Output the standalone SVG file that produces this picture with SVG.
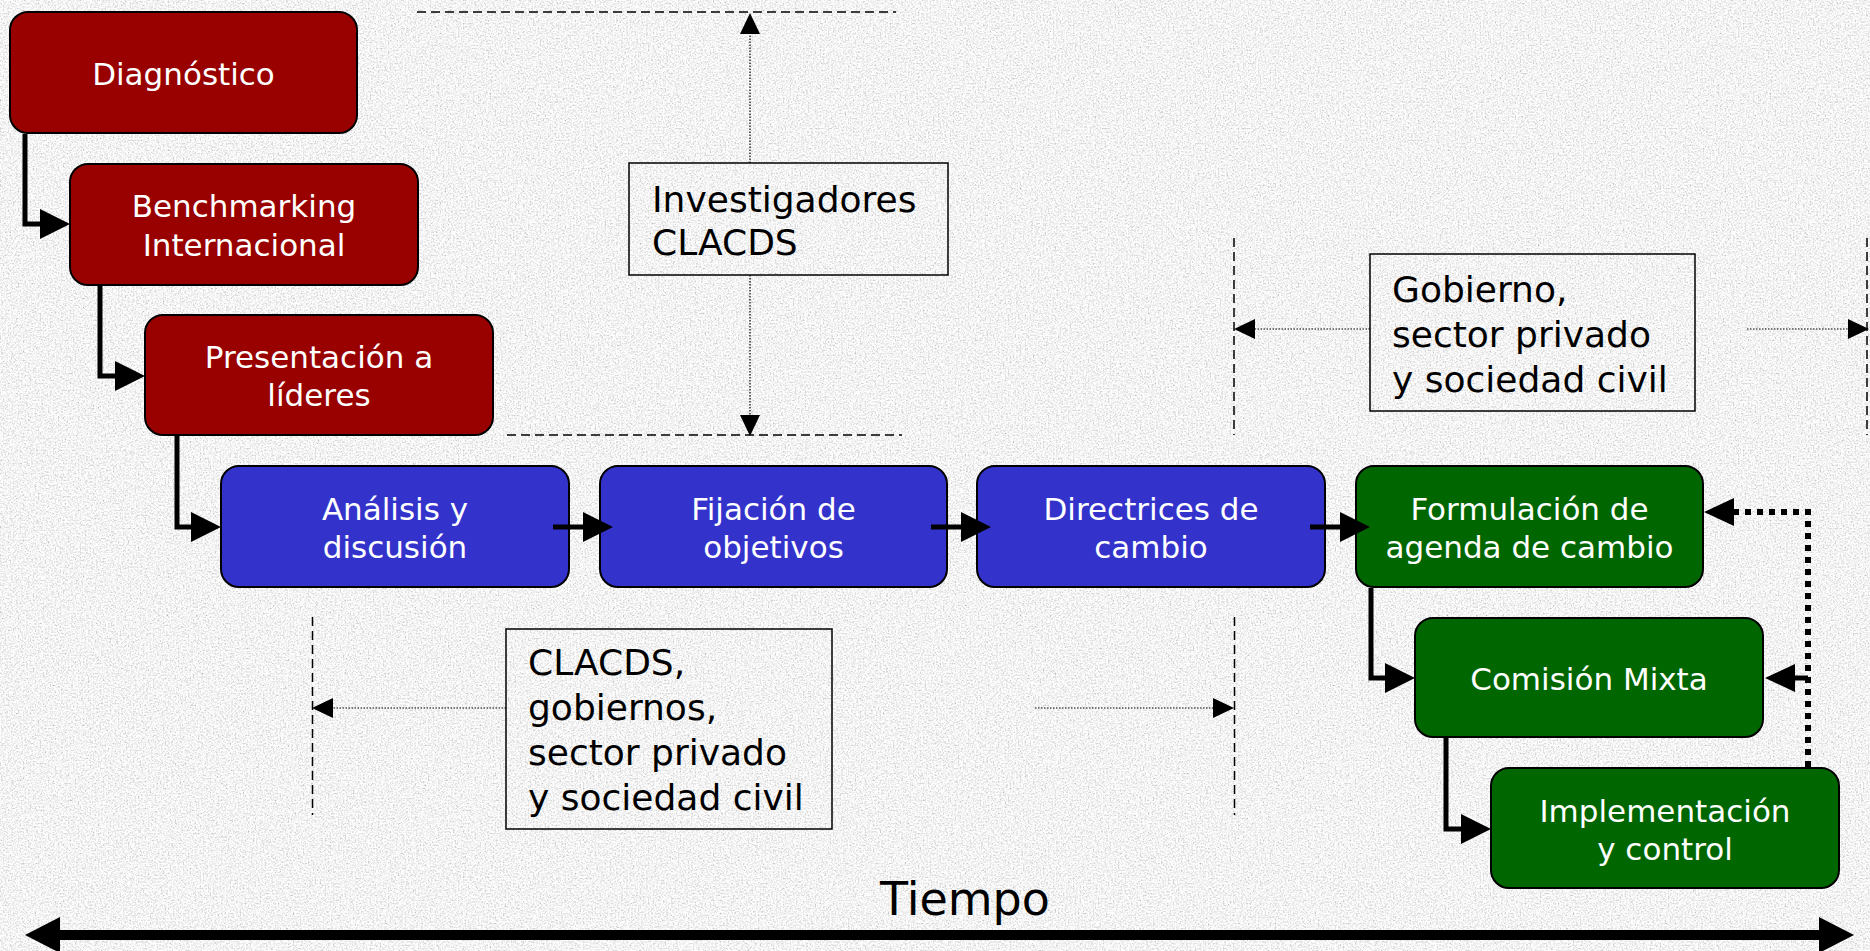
<svg xmlns="http://www.w3.org/2000/svg" width="1870" height="951" viewBox="0 0 1870 951">
  <defs>
    <filter id="granite" x="0" y="0" width="1" height="1">
      <feTurbulence type="fractalNoise" baseFrequency="0.6" numOctaves="3" seed="11" result="t"/>
      <feColorMatrix in="t" type="matrix" values="0.33 0.33 0.33 0 0  0.33 0.33 0.33 0 0  0.33 0.33 0.33 0 0  0 0 0 0 1"/>
      <feComponentTransfer>
        <feFuncR type="linear" slope="1.5" intercept="0.16"/>
        <feFuncG type="linear" slope="1.5" intercept="0.16"/>
        <feFuncB type="linear" slope="1.5" intercept="0.16"/>
      </feComponentTransfer>
    </filter>
    <marker id="arr" viewBox="0 0 30 30" refX="0" refY="15" markerWidth="30" markerHeight="30" markerUnits="userSpaceOnUse" orient="auto">
      <path d="M0,0 L30,15 L0,30 z" fill="#000"/>
    </marker>
    <marker id="sarr" viewBox="0 0 21 20" refX="0" refY="10" markerWidth="21" markerHeight="20" markerUnits="userSpaceOnUse" orient="auto">
      <path d="M0,0 L21,10 L0,20 z" fill="#000"/>
    </marker>
    <style>
      .node rect { stroke: #000; stroke-width: 2; }
      .red rect { fill: #990000; }
      .blue rect { fill: #3333cc; }
      .green rect { fill: #006600; }
      .node text { fill: #fff; font-family: "DejaVu Sans", Verdana, sans-serif; font-size: 31px; text-anchor: middle; }
      .label rect { fill: none; stroke: #000; stroke-width: 1.5; }
      .label text { fill: #000; font-family: "DejaVu Sans", Verdana, sans-serif; font-size: 36px; }
      .flow { fill: none; stroke: #000; stroke-width: 5; marker-end: url(#arr); }
      .fb { fill: none; stroke: #000; stroke-width: 6; stroke-dasharray: 6 6; }
      .guide { fill: none; stroke: #000; stroke-width: 1.5; stroke-dasharray: 9 5; }
      .dot { fill: none; stroke: #000; stroke-width: 1.2; stroke-dasharray: 1.5 1.5; marker-end: url(#sarr); }
    </style>
  </defs>

  <rect x="0" y="0" width="1870" height="951" fill="#e4e4e4"/>
  <rect x="0" y="0" width="1870" height="951" filter="url(#granite)"/>

  <g id="guides">
    <path class="guide" d="M417,12 H896"/>
    <path class="guide" d="M507,435 H902"/>
    <path class="guide" d="M1234,238 V435"/>
    <path class="guide" d="M1867,238 V435"/>
    <path class="guide" d="M312.5,617 V815"/>
    <path class="guide" d="M1234.5,617 V815"/>
  </g>

  <g id="n-diagnostico" class="node red">
    <rect x="10" y="12" width="347" height="121" rx="18"/>
    <text x="183.5" y="85">Diagnóstico</text>
  </g>
  <g id="n-benchmarking" class="node red">
    <rect x="70" y="164" width="348" height="121" rx="18"/>
    <text x="244" y="217">Benchmarking</text>
    <text x="244" y="256">Internacional</text>
  </g>
  <g id="n-presentacion" class="node red">
    <rect x="145" y="315" width="348" height="120" rx="18"/>
    <text x="319" y="368">Presentación a</text>
    <text x="319" y="406">líderes</text>
  </g>
  <g id="n-analisis" class="node blue">
    <rect x="221" y="466" width="348" height="121" rx="18"/>
    <text x="395" y="520">Análisis y</text>
    <text x="395" y="558">discusión</text>
  </g>
  <g id="n-fijacion" class="node blue">
    <rect x="600" y="466" width="347" height="121" rx="18"/>
    <text x="773.5" y="520">Fijación de</text>
    <text x="773.5" y="558">objetivos</text>
  </g>
  <g id="n-directrices" class="node blue">
    <rect x="977" y="466" width="348" height="121" rx="18"/>
    <text x="1151" y="520">Directrices de</text>
    <text x="1151" y="558">cambio</text>
  </g>
  <g id="n-formulacion" class="node green">
    <rect x="1356" y="466" width="347" height="121" rx="18"/>
    <text x="1529.5" y="520">Formulación de</text>
    <text x="1529.5" y="558">agenda de cambio</text>
  </g>
  <g id="n-comision" class="node green">
    <rect x="1415" y="618" width="348" height="119" rx="18"/>
    <text x="1589" y="690">Comisión Mixta</text>
  </g>
  <g id="n-implementacion" class="node green">
    <rect x="1491" y="768" width="348" height="120" rx="18"/>
    <text x="1665" y="822">Implementación</text>
    <text x="1665" y="860">y control</text>
  </g>

  <g id="l-investigadores" class="label">
    <rect x="629" y="163" width="319" height="112"/>
    <text x="652" y="212">Investigadores</text>
    <text x="652" y="255">CLACDS</text>
  </g>
  <g id="l-gobierno" class="label">
    <rect x="1370" y="254" width="325" height="157"/>
    <text x="1392" y="302">Gobierno,</text>
    <text x="1392" y="347">sector privado</text>
    <text x="1392" y="392">y sociedad civil</text>
  </g>
  <g id="l-clacds" class="label">
    <rect x="506" y="629" width="326" height="200"/>
    <text x="528" y="675">CLACDS,</text>
    <text x="528" y="720">gobiernos,</text>
    <text x="528" y="765">sector privado</text>
    <text x="528" y="810">y sociedad civil</text>
  </g>
  <g id="l-tiempo">
    <text x="965" y="915" font-family="DejaVu Sans, Verdana, sans-serif" font-size="46" text-anchor="middle" fill="#000">Tiempo</text>
  </g>

  <g id="connectors">
    <path class="flow" d="M25,134 V224 H40"/>
    <path class="flow" d="M100,286 V376 H115"/>
    <path class="flow" d="M177,436 V527 H191"/>
    <path class="flow" d="M553,527 H583"/>
    <path class="flow" d="M931,527 H961"/>
    <path class="flow" d="M1310,527 H1340"/>
    <path class="flow" d="M1371,588 V678 H1385"/>
    <path class="flow" d="M1446,738 V829 H1461"/>
    <path class="fb" d="M1808,767 V512 H1734"/>
    <polygon points="1734,498 1734,526 1704,512" fill="#000"/>
    <path d="M1808,678 H1794" stroke="#000" stroke-width="5" fill="none"/>
    <polygon points="1795,664 1795,692 1765,678" fill="#000"/>
    <path class="dot" d="M750,163 V34"/>
    <path class="dot" d="M750,275 V415"/>
    <path class="dot" d="M1370,329 H1255"/>
    <path class="dot" d="M1747,329 H1848"/>
    <path class="dot" d="M506,708 H333"/>
    <path class="dot" d="M1035,708 H1213"/>
    <path d="M60,935 H1819" stroke="#000" stroke-width="10" fill="none"/>
    <polygon points="60,917 60,953 25,935" fill="#000"/>
    <polygon points="1819,917 1819,953 1854,935" fill="#000"/>
  </g>
</svg>
